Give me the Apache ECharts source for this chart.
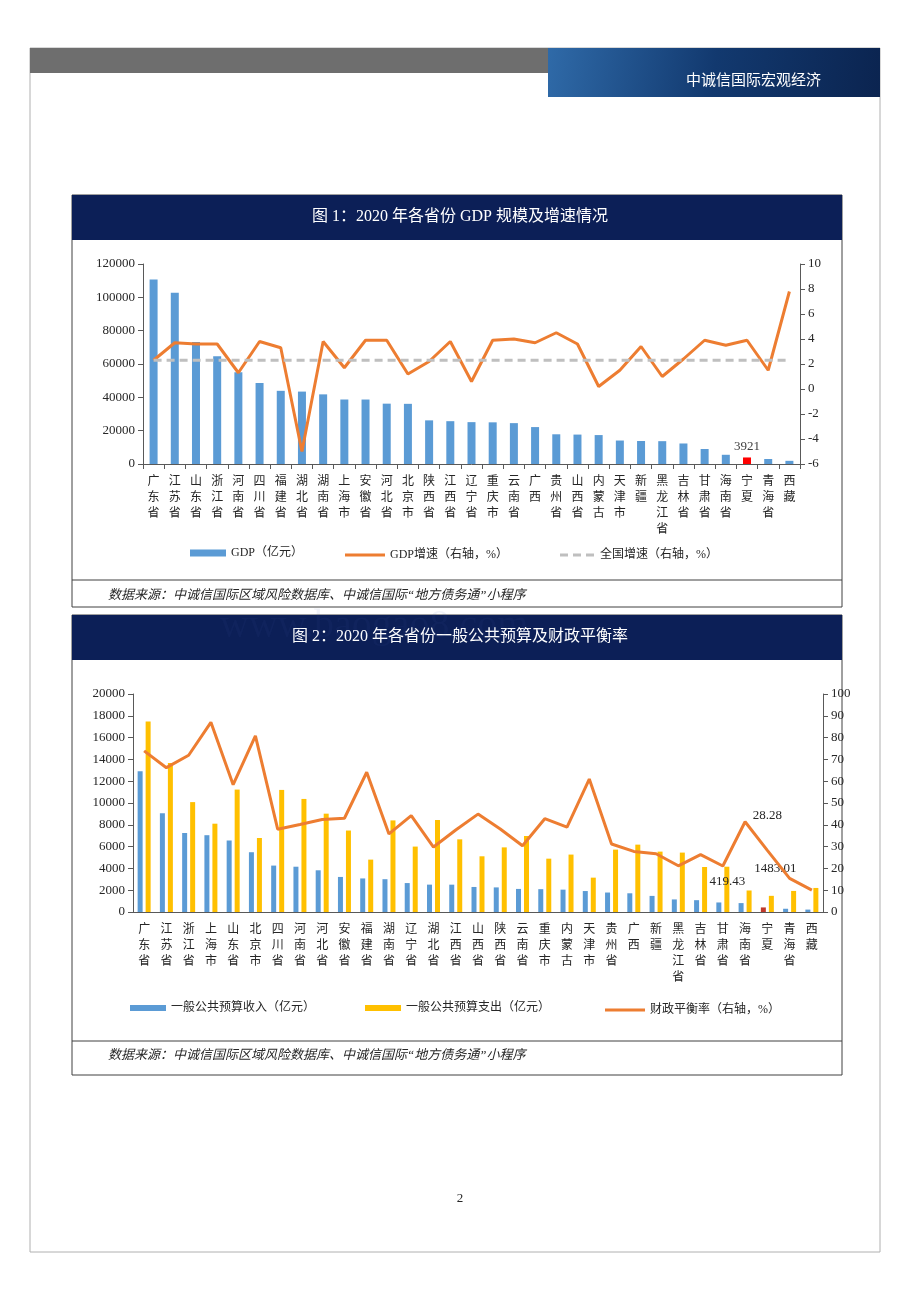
<!DOCTYPE html>
<html><head><meta charset="utf-8">
<script src="https://cdn.jsdelivr.net/npm/echarts@6/dist/echarts.min.js"></script>
<style>html,body{margin:0;padding:0;background:#fff}#main{width:920px;height:1302px}</style>
</head><body><div id="main"></div>
<script>
// 图1 数据
var prov1 = ['广东省','江苏省','山东省','浙江省','河南省','四川省','福建省','湖北省','湖南省','上海市','安徽省','河北省','北京市','陕西省','江西省','辽宁省','重庆市','云南省','广西','贵州省','山西省','内蒙古','天津市','新疆','黑龙江省','吉林省','甘肃省','海南省','宁夏','青海省','西藏'];
var gdp = [110761,102719,73129,64613,54997,48599,43904,43443,41782,38701,38681,36207,36103,26182,25692,25115,25003,24522,22157,17827,17652,17360,14084,13798,13699,12311,9017,5532,3921,3006,1903];
var gdpGrowth = [2.3,3.7,3.6,3.6,1.3,3.8,3.3,-5.0,3.8,1.7,3.9,3.9,1.2,2.2,3.8,0.6,3.9,4.0,3.7,4.5,3.6,0.2,1.5,3.4,1.0,2.4,3.9,3.5,3.9,1.5,7.8];
var nationalGrowth = 2.3;
// 图2 数据
var prov2 = ['广东省','江苏省','浙江省','上海市','山东省','北京市','四川省','河南省','河北省','安徽省','福建省','湖南省','辽宁省','湖北省','江西省','山西省','陕西省','云南省','重庆市','内蒙古','天津市','贵州省','广西','新疆','黑龙江省','吉林省','甘肃省','海南省','宁夏','青海省','西藏'];
var revenue = [12923,9059,7248,7046,6560,5484,4258,4155,3826,3216,3079,3009,2655,2511,2508,2297,2257,2117,2095,2051,1923,1786,1717,1477,1153,1085,875,817,419.43,298,221];
var expense = [17485,13681,10082,8102,11232,6790,11200,10373,9022,7474,4806,8403,6002,8439,6667,5111,5929,6975,4893,5268,3151,5723,6180,5540,5450,4127,4155,1974,1483.01,1933,2207];
var balanceRate = [73.9,66.2,71.9,87.0,58.4,80.8,38.0,40.1,42.4,43.0,64.1,35.8,44.2,29.8,37.6,44.9,38.1,30.4,42.8,38.9,61.0,31.2,27.8,26.7,21.2,26.3,21.1,41.4,28.28,15.4,10.0];

var FONT = "'Liberation Serif','Noto Sans CJK SC',serif";
var NAVY = '#0c1f57';
function vert(s){ return s.split('').join('\n'); }

var gdpData = gdp.map(function(v,i){
  if (prov1[i]==='宁夏') return {value:v,itemStyle:{color:'#ff0000'},label:{show:true,position:'top',formatter:'3921',color:'#404040',fontSize:13,fontFamily:FONT,distance:4}};
  return v;
});
var growthData = gdpGrowth.map(function(v,i){
  if (prov1[i]==='宁夏') return {value:v,label:{show:true,position:'top',formatter:'3.9',color:'#595959',fontSize:13,fontFamily:FONT,distance:12}};
  return v;
});
var revData = revenue.map(function(v,i){
  if (prov2[i]==='宁夏') return {value:v,itemStyle:{color:'#c0392b'},label:{show:true,position:'top',formatter:'419.43',color:'#262626',fontSize:13,fontFamily:FONT,offset:[-36,-14]}};
  return v;
});
var expData = expense.map(function(v,i){
  if (prov2[i]==='宁夏') return {value:v,label:{show:true,position:'top',formatter:'1483.01',color:'#262626',fontSize:13,fontFamily:FONT,offset:[4,-16]}};
  return v;
});
var rateData = balanceRate.map(function(v,i){
  if (prov2[i]==='宁夏') return {value:v,label:{show:true,position:'top',formatter:'28.28',color:'#262626',fontSize:13,fontFamily:FONT,distance:28,offset:[-14,2]}};
  return v;
});

var axisLbl = {color:'#262626',fontSize:13,fontFamily:FONT,formatter:function(v){return String(v);}};
var catLbl = {color:'#262626',fontSize:12,fontFamily:"'Noto Sans CJK SC',sans-serif",interval:0,lineHeight:16,formatter:vert,margin:8};
var line = {lineStyle:{color:'#595959'}};
var lgTxt = {fontSize:12,color:'#262626',fontFamily:FONT};

var chart = echarts.init(document.getElementById('main'));
chart.setOption({
  animation:false,
  graphic:[
    {type:'rect',shape:{x:30,y:48,width:850,height:1204},style:{fill:'none',stroke:'#b0b0b0',lineWidth:1}},
    {type:'rect',shape:{x:30,y:48,width:518,height:25},style:{fill:'#6e6e6e'}},
    {type:'rect',shape:{x:548,y:48,width:332,height:49},style:{fill:new echarts.graphic.LinearGradient(0,0,1,1,[{offset:0,color:'#2f6aa8'},{offset:0.5,color:'#12396f'},{offset:1,color:'#0b2450'}])}},
    {type:'text',left:686,top:72,style:{text:'中诚信国际宏观经济',fill:'#fff',fontSize:15,fontFamily:"'Noto Sans CJK SC',sans-serif"}},
    {type:'rect',shape:{x:72,y:195,width:770,height:412},style:{fill:'none',stroke:'#404040',lineWidth:1}},
    {type:'rect',shape:{x:72,y:195,width:770,height:45},style:{fill:NAVY}},
    {type:'text',left:'center',top:209,style:{text:'图 1：2020 年各省份 GDP 规模及增速情况',fill:'#fff',fontSize:16,fontFamily:FONT}},
    {type:'line',shape:{x1:72,y1:580,x2:842,y2:580},style:{stroke:'#404040'}},
    {type:'text',left:108,top:589,style:{text:'数据来源：中诚信国际区域风险数据库、中诚信国际“地方债务通”小程序',fill:'#262626',fontSize:13,fontStyle:'italic',fontFamily:FONT}},
    {type:'rect',shape:{x:72,y:615,width:770,height:460},style:{fill:'none',stroke:'#404040',lineWidth:1}},
    {type:'rect',shape:{x:72,y:615,width:770,height:45},style:{fill:NAVY}},
    {type:'text',left:'center',top:629,style:{text:'图 2：2020 年各省份一般公共预算及财政平衡率',fill:'#fff',fontSize:16,fontFamily:FONT}},
    {type:'line',shape:{x1:72,y1:1041,x2:842,y2:1041},style:{stroke:'#404040'}},
    {type:'text',left:108,top:1049,style:{text:'数据来源：中诚信国际区域风险数据库、中诚信国际“地方债务通”小程序',fill:'#262626',fontSize:13,fontStyle:'italic',fontFamily:FONT}},
    {type:'text',left:'center',top:1192,style:{text:'2',fill:'#262626',fontSize:13,fontFamily:FONT}},
    {type:'text',left:220,top:606,z:100,style:{text:'www.baogao8.com',fill:'rgba(60,90,160,0.08)',fontSize:40,fontFamily:FONT}}
  ],
  legend:[
    {data:[{name:'GDP（亿元）',icon:'rect'}],left:185,top:542,itemWidth:36,itemHeight:7,textStyle:lgTxt},
    {data:[{name:'GDP增速（右轴，%）',icon:'rect'}],left:340,top:544,itemWidth:40,itemHeight:3,textStyle:lgTxt},
    {data:[{name:'全国增速（右轴，%）',icon:'path://M0,0h8v3h-8zM13,0h8v3h-8zM26,0h8v3h-8z'}],left:555,top:544,itemWidth:36,itemHeight:3,textStyle:lgTxt},
    {data:[{name:'一般公共预算收入（亿元）',icon:'rect'}],left:125,top:997,itemWidth:36,itemHeight:6,textStyle:lgTxt},
    {data:[{name:'一般公共预算支出（亿元）',icon:'rect'}],left:360,top:997,itemWidth:36,itemHeight:6,textStyle:lgTxt},
    {data:[{name:'财政平衡率（右轴，%）',icon:'rect'}],left:600,top:999,itemWidth:40,itemHeight:3,textStyle:lgTxt}
  ],
  grid:[
    {left:143,right:120,top:264,height:200},
    {left:133,right:97,top:694,height:218}
  ],
  xAxis:[
    {type:'category',gridIndex:0,data:prov1,axisLine:line,axisTick:{show:true,interval:0,lineStyle:{color:'#595959'}},axisLabel:catLbl},
    {type:'category',gridIndex:1,data:prov2,axisLine:line,axisTick:{show:false},axisLabel:catLbl}
  ],
  yAxis:[
    {type:'value',gridIndex:0,min:0,max:120000,interval:20000,axisLine:{show:true,lineStyle:{color:'#595959'}},axisTick:{show:true},splitLine:{show:false},axisLabel:axisLbl},
    {type:'value',gridIndex:0,min:-6,max:10,interval:2,position:'right',axisLine:{show:true,lineStyle:{color:'#595959'}},axisTick:{show:true},splitLine:{show:false},axisLabel:axisLbl},
    {type:'value',gridIndex:1,min:0,max:20000,interval:2000,axisLine:{show:true,lineStyle:{color:'#595959'}},axisTick:{show:true},splitLine:{show:false},axisLabel:axisLbl},
    {type:'value',gridIndex:1,min:0,max:100,interval:10,position:'right',axisLine:{show:true,lineStyle:{color:'#595959'}},axisTick:{show:true},splitLine:{show:false},axisLabel:axisLbl}
  ],
  series:[
    {name:'GDP（亿元）',type:'bar',xAxisIndex:0,yAxisIndex:0,data:gdpData,barWidth:8,itemStyle:{color:'#5b9bd5'}},
    {name:'GDP增速（右轴，%）',type:'line',xAxisIndex:0,yAxisIndex:1,data:growthData,symbol:'none',lineStyle:{color:'#ed7d31',width:3},itemStyle:{color:'#ed7d31'}},
    {name:'全国增速（右轴，%）',type:'line',xAxisIndex:0,yAxisIndex:1,data:prov1.map(function(){return nationalGrowth;}),symbol:'none',lineStyle:{color:'#bfbfbf',width:3,type:[8,5]},itemStyle:{color:'#bfbfbf'}},
    {name:'一般公共预算收入（亿元）',type:'bar',xAxisIndex:1,yAxisIndex:2,data:revData,barWidth:5,barGap:'60%',itemStyle:{color:'#5b9bd5'}},
    {name:'一般公共预算支出（亿元）',type:'bar',xAxisIndex:1,yAxisIndex:2,data:expData,barWidth:5,itemStyle:{color:'#ffc000'}},
    {name:'财政平衡率（右轴，%）',type:'line',xAxisIndex:1,yAxisIndex:3,data:rateData,symbol:'circle',symbolSize:0.1,showSymbol:true,lineStyle:{color:'#ed7d31',width:3},itemStyle:{color:'#ed7d31'},z:5,labelLayout:{hideOverlap:false}}
  ]
});
</script></body></html>
